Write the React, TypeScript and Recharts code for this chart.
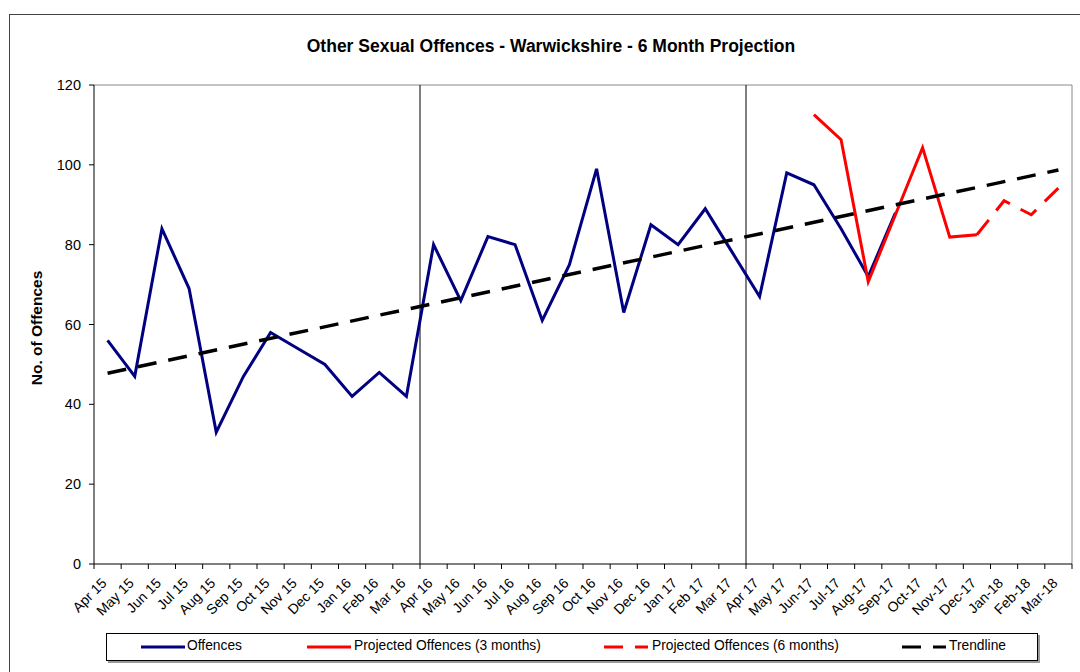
import { Legend, Line, LineChart, ReferenceLine, XAxis, YAxis } from "recharts";

const months = [
  "Apr 15", "May 15", "Jun 15", "Jul 15", "Aug 15", "Sep 15", "Oct 15", "Nov 15", "Dec 15", "Jan 16", "Feb 16", "Mar 16",
  "Apr 16", "May 16", "Jun 16", "Jul 16", "Aug 16", "Sep 16", "Oct 16", "Nov 16", "Dec 16", "Jan 17", "Feb 17", "Mar 17",
  "Apr 17", "May 17", "Jun-17", "Jul-17", "Aug-17", "Sep-17", "Oct-17", "Nov-17", "Dec-17", "Jan-18", "Feb-18", "Mar-18",
];

// Apr 15 .. Sep-17
const offences = [
  56, 47, 84, 69, 33, 47, 58, 54, 50, 42, 48, 42,
  80, 66, 82, 80, 61, 75, 99, 63, 85, 80, 89, 78,
  67, 98, 95, 84, 72, 88,
];

// Jun-17 .. Dec-17
const proj3Start = 26;
const proj3 = [112.6, 106.3, 70.7, 87.5, 104.3, 81.9, 82.5];

// Dec-17 .. Mar-18
const proj6Start = 32;
const proj6 = [82.5, 91, 87.5, 94.2];

// trendline end points (Apr 15, Mar-18)
const trendStart = 47.8;
const trendEnd = 98.7;

const yTicks = [0, 20, 40, 60, 80, 100, 120];

const FONT = "'Liberation Sans', Arial, sans-serif";
const PLOT_W = 978;
const STEP = PLOT_W / months.length;

const rows = months.map((m, i) => ({
  i,
  month: m,
  off: i < offences.length ? offences[i] : null,
  p3: i >= proj3Start && i < proj3Start + proj3.length ? proj3[i - proj3Start] : null,
  p6: i >= proj6Start && i < proj6Start + proj6.length ? proj6[i - proj6Start] : null,
  trend: i === 0 ? trendStart : i === months.length - 1 ? trendEnd : null,
}));

function MonthTick(props: any) {
  const { x, y, payload } = props;
  const i = payload.value as number;
  const left = x - STEP / 2;
  return (
    <g>
      <line x1={left} y1={y} x2={left} y2={y + 5} stroke="#000" />
      {i === months.length - 1 && <line x1={x + STEP / 2} y1={y} x2={x + STEP / 2} y2={y + 5} stroke="#000" />}
      <text x={x} y={y + 20} transform={`rotate(-45 ${x} ${y + 20})`} textAnchor="end" fontSize={14} fontFamily={FONT} fill="#000">
        {months[i]}
      </text>
    </g>
  );
}

const legendItems = [
  { label: "Offences", color: "#000080", dash: undefined, lineX: 34, textX: 80 },
  { label: "Projected Offences (3 months)", color: "#ff0000", dash: undefined, lineX: 200, textX: 247 },
  { label: "Projected Offences (6 months)", color: "#ff0000", dash: "19 12", lineX: 497, textX: 545 },
  { label: "Trendline", color: "#000", dash: "19 12", lineX: 795, textX: 842 },
];

function LegendBox() {
  return (
    <div style={{ position: "relative", width: 930, height: 26, border: "1px solid #000", boxShadow: "2px 2px 0 #999", background: "#fff", fontFamily: FONT, fontSize: 13.8 }}>
      {legendItems.map((it) => (
        <div key={it.label}>
          <svg style={{ position: "absolute", left: it.lineX, top: 10 }} width={44} height={6}>
            <line x1={0} y1={3} x2={44} y2={3} stroke={it.color} strokeWidth={3} strokeDasharray={it.dash} />
          </svg>
          <span style={{ position: "absolute", left: it.textX, top: 4, whiteSpace: "nowrap" }}>{it.label}</span>
        </div>
      ))}
    </div>
  );
}

export default function App() {
  return (
    <div style={{ position: "absolute", left: 0, top: 0, width: 1080, height: 672, background: "#fff", overflow: "hidden" }}>
      <div style={{ position: "absolute", left: 9, top: 14, width: 1100, height: 700, border: "1px solid #444" }} />
      <div style={{ position: "absolute", left: 0, width: 1102, top: 36, textAlign: "center", fontFamily: FONT, fontSize: 17.5, fontWeight: "bold" }}>
        Other Sexual Offences - Warwickshire - 6 Month Projection
      </div>
      <div style={{ position: "absolute", left: 37, top: 328, transform: "translate(-50%, -50%) rotate(-90deg)", whiteSpace: "nowrap", fontFamily: FONT, fontSize: 15.5, fontWeight: "bold" }}>
        No. of Offences
      </div>
      <div style={{ position: "absolute", left: 0, top: 0 }}>
        <LineChart width={1080} height={672} data={rows} margin={{ top: 85, right: 8, bottom: 78, left: 34 }}>
          <XAxis
            dataKey="i"
            type="number"
            domain={[-0.5, months.length - 0.5]}
            ticks={months.map((_, i) => i)}
            interval={0}
            height={30}
            tickSize={0}
            tickMargin={0}
            tick={<MonthTick />}
            stroke="#000"
          />
          <YAxis
            domain={[0, 120]}
            ticks={yTicks}
            width={60}
            tickSize={5}
            tickMargin={8}
            stroke="#000"
            tick={{ fill: "#000", fontSize: 14.5, fontFamily: FONT }}
          />
          <ReferenceLine y={120} stroke="#888" />
          <ReferenceLine x={months.length - 0.5} stroke="#888" />
          <ReferenceLine x={11.5} stroke="#000" />
          <ReferenceLine x={23.5} stroke="#000" />
          <Line dataKey="off" stroke="#000080" strokeWidth={3} dot={false} isAnimationActive={false} />
          <Line dataKey="p3" stroke="#ff0000" strokeWidth={3} dot={false} isAnimationActive={false} />
          <Line dataKey="p6" stroke="#ff0000" strokeWidth={3} strokeDasharray="19 12" dot={false} isAnimationActive={false} />
          <Line dataKey="trend" stroke="#000" strokeWidth={3.5} strokeDasharray="19 12" dot={false} connectNulls isAnimationActive={false} />
          <Legend
            layout="horizontal"
            verticalAlign="middle"
            align="center"
            wrapperStyle={{ left: 106, top: 633, width: 932, height: 28 }}
            content={() => <LegendBox />}
          />
        </LineChart>
      </div>
    </div>
  );
}
